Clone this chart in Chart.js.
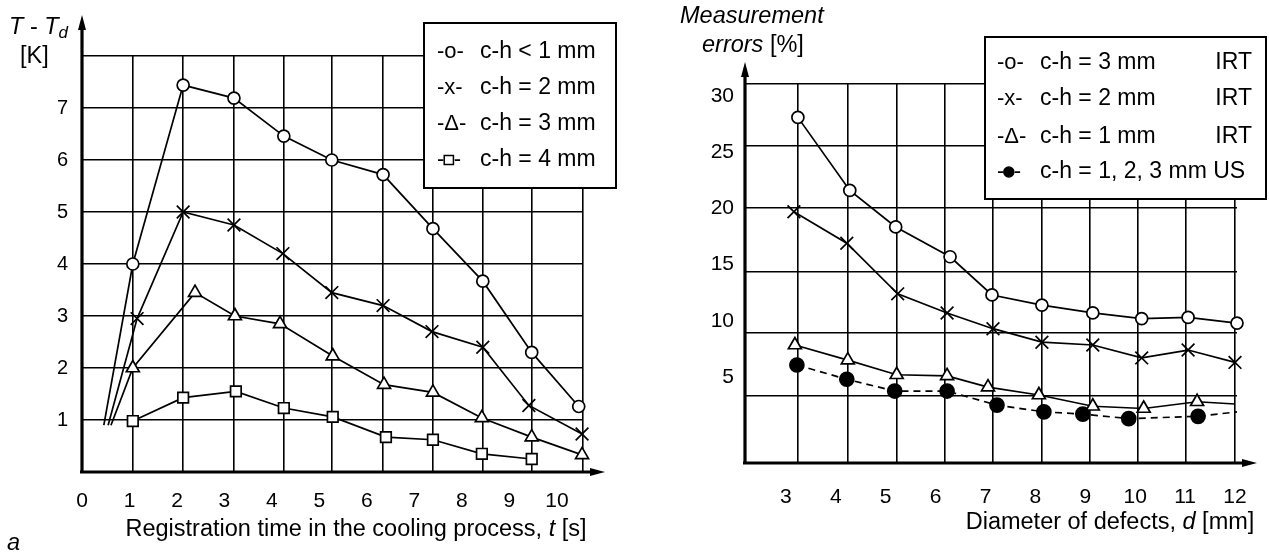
<!DOCTYPE html>
<html>
<head>
<meta charset="utf-8">
<script src="https://cdn.jsdelivr.net/npm/chart.js@4.4.1/dist/chart.umd.min.js"></script>
<style>
  html, body { margin: 0; padding: 0; background: #fff; }
  #wrap { position: relative; width: 1269px; height: 552px; overflow: hidden; background: #fff; }
  #c1 { position: absolute; left: 0; top: 0; }
  #c2 { position: absolute; left: 630px; top: 0; }
</style>
</head>
<body>
<div id="wrap">
  <canvas id="c1" width="630" height="552"></canvas>
  <canvas id="c2" width="639" height="552"></canvas>
</div>
<script>
//==================== chart a : T - Td vs registration time ====================
const tTicks = [0, 1, 2, 3, 4, 5, 6, 7, 8, 9, 10];
const tGrid = [1.07, 2.13, 3.2, 4.25, 5.26, 6.34, 7.39, 8.44, 9.47, 10.55];
const kTicks = [0, 1, 2, 3, 4, 5, 6, 7, 8];

const t_ch1 = [0.46, 1.07, 2.13, 3.2, 4.25, 5.26, 6.34, 7.39, 8.44, 9.47, 10.46];
const v_ch1 = [0.9, 4.0, 7.44, 7.19, 6.46, 6.0, 5.72, 4.68, 3.67, 2.3, 1.26];
const t_ch2 = [0.55, 1.16, 2.13, 3.2, 4.23, 5.26, 6.34, 7.37, 8.44, 9.41, 10.53];
const v_ch2 = [0.9, 2.95, 5.0, 4.75, 4.2, 3.45, 3.2, 2.7, 2.4, 1.28, 0.73];
const t_ch3 = [0.61, 1.07, 2.38, 3.22, 4.17, 5.28, 6.36, 7.39, 8.42, 9.47, 10.53];
const v_ch3 = [0.9, 2.0, 3.45, 3.0, 2.85, 2.23, 1.68, 1.53, 1.04, 0.67, 0.33];
const t_ch4 = [1.07, 2.13, 3.24, 4.25, 5.28, 6.4, 7.39, 8.42, 9.47];
const v_ch4 = [0.98, 1.43, 1.55, 1.23, 1.06, 0.67, 0.62, 0.35, 0.25];

const legA = ['c-h < 1 mm', 'c-h = 2 mm', 'c-h = 3 mm', 'c-h = 4 mm'];
const symA = ['o', 'x', '\u0394', null];

//==================== chart b : measurement errors vs defect diameter ====================
const dTicks = [3, 4, 5, 6, 7, 8, 9, 10, 11, 12];
const dGrid = [3.24, 4.24, 5.22, 6.19, 7.15, 8.13, 9.09, 10.05, 11.02, 12.0];
const eTicks = [5, 10, 15, 20, 25, 30];
const eGrid = [3.31, 8.91, 14.34, 20.04, 25.55, 31.07];

const d_irt3 = [3.24, 4.28, 5.2, 6.29, 7.13, 8.13, 9.15, 10.13, 11.06, 12.04];
const e_irt3 = [28.1, 21.6, 18.35, 15.7, 12.3, 11.4, 10.7, 10.2, 10.3, 9.8];
const d_irt2 = [3.16, 4.22, 5.24, 6.23, 7.15, 8.13, 9.15, 10.13, 11.06, 12.0];
const e_irt2 = [19.7, 16.9, 12.4, 10.7, 9.3, 8.1, 7.85, 6.7, 7.4, 6.3];
const d_irt1 = [3.18, 4.24, 5.22, 6.23, 7.05, 8.07, 9.15, 10.17, 11.24, 12.0];
const e_irt1 = [7.85, 6.5, 5.2, 5.1, 4.1, 3.4, 2.4, 2.2, 2.8, 2.6];
const d_us = [3.22, 4.22, 5.18, 6.23, 7.23, 8.17, 8.95, 9.87, 11.26, 12.04];
const e_us = [6.07, 4.8, 3.75, 3.75, 2.5, 1.9, 1.7, 1.3, 1.5, 1.9];

const legB = ['c-h = 3 mm', 'c-h = 2 mm', 'c-h = 1 mm', 'c-h = 1, 2, 3 mm US'];
const legBsuffix = ['IRT', 'IRT', 'IRT', ''];
const symB = ['o', 'x', '\u0394', null];

//================================
const FONT = 'Arial, "Liberation Sans", Helvetica, sans-serif';
const pts = (xs, ys) => xs.map((x, i) => ({ x: x, y: ys[i] }));

// draws a run of text pieces: [text, italic, size, dy]
function rich(ctx, segs, x, y, align) {
	let w = 0;
	segs.forEach(s => {
		ctx.font = (s[1] ? 'italic ' : '') + s[2] + 'px ' + FONT;
		w += ctx.measureText(s[0]).width;
	});
	let cx = align === 'center' ? x - w / 2 : x;
	segs.forEach(s => {
		ctx.font = (s[1] ? 'italic ' : '') + s[2] + 'px ' + FONT;
		ctx.fillText(s[0], cx, y + (s[3] || 0));
		cx += ctx.measureText(s[0]).width;
	});
}

function axesArrows(ctx, ca, up, right) {
	ctx.save();
	ctx.strokeStyle = '#000';
	ctx.fillStyle = '#000';
	ctx.lineWidth = 3.2;
	ctx.beginPath();
	ctx.moveTo(ca.left, ca.bottom + 1);
	ctx.lineTo(ca.left, ca.top - up + 10);
	ctx.moveTo(ca.left - 2, ca.bottom);
	ctx.lineTo(ca.right + right - 10, ca.bottom);
	ctx.stroke();
	ctx.beginPath();
	ctx.moveTo(ca.left, ca.top - up);
	ctx.lineTo(ca.left - 4, ca.top - up + 15);
	ctx.lineTo(ca.left + 4, ca.top - up + 15);
	ctx.closePath();
	ctx.fill();
	ctx.beginPath();
	ctx.moveTo(ca.right + right, ca.bottom);
	ctx.lineTo(ca.right + right - 15, ca.bottom - 4);
	ctx.lineTo(ca.right + right - 15, ca.bottom + 4);
	ctx.closePath();
	ctx.fill();
	ctx.restore();
}

function legendBox(chart, box, rows, symX, labX, sufX, labels, syms, suffix) {
	const ctx = chart.ctx;
	ctx.save();
	ctx.fillStyle = '#fff';
	ctx.fillRect(box[0], box[1], box[2], box[3]);
	ctx.strokeStyle = '#000';
	ctx.lineWidth = 2;
	ctx.strokeRect(box[0], box[1], box[2], box[3]);
	ctx.fillStyle = '#000';
	ctx.textBaseline = 'middle';
	labels.forEach((lab, i) => {
		const y = rows[i];
		ctx.textAlign = 'left';
		ctx.font = '22px ' + FONT;
		if (syms[i] !== null) {
			ctx.fillText('-' + syms[i] + '-', symX, y);
		} else {
			// marker drawn between two dashes, like "-o-"
			const ds = chart.data.datasets[i];
			const dw = ctx.measureText('-').width;
			const r = ds.pointStyle === 'rect' ? 6.5 : 5;
			ctx.fillText('-', symX, y);
			ctx.fillStyle = ds.pointBackgroundColor;
			ctx.strokeStyle = '#000';
			ctx.lineWidth = 1.5;
			Chart.helpers.drawPoint(ctx, { pointStyle: ds.pointStyle, radius: r, rotation: 0, borderWidth: 1.5 }, symX + dw + 4.5, y);
			ctx.fillStyle = '#000';
			ctx.fillText('-', symX + dw + 9.5, y);
		}
		ctx.font = '23px ' + FONT;
		ctx.fillText(lab, labX, y);
		if (suffix && suffix[i]) {
			ctx.textAlign = 'right';
			ctx.fillText(suffix[i], sufX, y);
		}
	});
	ctx.restore();
}

const gridLine = { color: '#000', lineWidth: 1.6, drawTicks: false };

function setTicks(arr) {
	return s => { s.ticks = arr.map(v => ({ value: v })); };
}

//==============chart a===============
const decorA = {
	id: 'decorA',
	beforeDatasetsDraw(chart) {
		axesArrows(chart.ctx, chart.chartArea, 41, 22);
	},
	afterDraw(chart) {
		const ctx = chart.ctx;
		legendBox(chart, [424, 23, 192, 165], [52, 88, 124, 160], 437, 480, 0, legA, symA, null);
		ctx.save();
		ctx.fillStyle = '#000';
		ctx.textBaseline = 'alphabetic';
		rich(ctx, [['T', true, 23.5], [' - ', false, 23.5], ['T', true, 23.5], ['d', true, 17, 4]], 9, 34, 'left');
		rich(ctx, [['[K]', false, 23.5]], 20, 63, 'left');
		rich(ctx, [['Registration time in the cooling process, ', false, 23.5], ['t', true, 23.5], [' [s]', false, 23.5]], 356, 536, 'center');
		rich(ctx, [['a', true, 23.5]], 7, 550, 'left');
		ctx.restore();
	}
};

const ptBase = {
	borderColor: '#000',
	borderWidth: 1.7,
	pointBorderColor: '#000',
	pointBackgroundColor: '#fff',
	pointBorderWidth: 1.7,
	showLine: true,
	tension: 0,
	clip: false
};

new Chart(document.getElementById('c1').getContext('2d'), {
	type: 'scatter',
	data: {
		datasets: [
			Object.assign({}, ptBase, { label: legA[0], data: pts(t_ch1, v_ch1), pointStyle: 'circle', pointRadius: c => c.dataIndex === 0 ? 0 : 6 }),
			Object.assign({}, ptBase, { label: legA[1], data: pts(t_ch2, v_ch2), pointStyle: 'crossRot', pointRadius: c => c.dataIndex === 0 ? 0 : 9 }),
			Object.assign({}, ptBase, { label: legA[2], data: pts(t_ch3, v_ch3), pointStyle: 'triangle', pointRadius: c => c.dataIndex === 0 ? 0 : 7.5 }),
			Object.assign({}, ptBase, { label: legA[3], data: pts(t_ch4, v_ch4), pointStyle: 'rect', pointRadius: 7.5 })
		]
	},
	options: {
		responsive: false,
		animation: false,
		events: [],
		layout: { padding: { left: 0, top: 56, right: 47, bottom: 0 } },
		plugins: { legend: { display: false }, tooltip: { enabled: false } },
		scales: {
			x: {
				type: 'linear', position: 'bottom', min: 0, max: 10.55,
				afterBuildTicks: setTicks(tTicks),
				grid: { display: false, drawTicks: false },
				border: { display: false },
				ticks: { font: { family: FONT, size: 21 }, color: '#000', padding: 17, maxRotation: 0, autoSkip: false },
				afterFit: s => { s.height = 80; }
			},
			xg: {
				type: 'linear', position: 'bottom', min: 0, max: 10.55,
				afterBuildTicks: setTicks(tGrid),
				grid: gridLine,
				border: { display: false },
				ticks: { display: false },
				afterFit: s => { s.height = 0; }
			},
			y: {
				type: 'linear', min: 0, max: 8,
				afterBuildTicks: setTicks(kTicks),
				grid: { color: c => (c.tick && c.tick.value === 0) ? 'rgba(0,0,0,0)' : '#000', lineWidth: 1.6, drawTicks: false },
				border: { display: false },
				ticks: { font: { family: FONT, size: 20 }, color: '#000', padding: 14, callback: v => (v === 0 || v === 8) ? '' : v },
				afterFit: s => { s.width = 82; }
			}
		}
	},
	plugins: [decorA]
});

//==============chart b===============
const decorB = {
	id: 'decorB',
	beforeDatasetsDraw(chart) {
		axesArrows(chart.ctx, chart.chartArea, 22, 20);
	},
	afterDraw(chart) {
		const ctx = chart.ctx;
		legendBox(chart, [355, 37, 281, 162], [63, 99, 137, 172], 367, 410, 622, legB, symB, legBsuffix);
		ctx.save();
		ctx.fillStyle = '#000';
		ctx.textBaseline = 'alphabetic';
		rich(ctx, [['Measurement', true, 23.5]], 50, 23, 'left');
		rich(ctx, [['errors', true, 23.5], [' [%]', false, 23.5]], 72, 52, 'left');
		rich(ctx, [['Diameter of defects, ', false, 23.5], ['d', true, 23.5], [' [mm]', false, 23.5]], 480, 529, 'center');
		ctx.restore();
	}
};

new Chart(document.getElementById('c2').getContext('2d'), {
	type: 'scatter',
	data: {
		datasets: [
			Object.assign({}, ptBase, { label: legB[0], data: pts(d_irt3, e_irt3), pointStyle: 'circle', pointRadius: 6 }),
			Object.assign({}, ptBase, { label: legB[1], data: pts(d_irt2, e_irt2), pointStyle: 'crossRot', pointRadius: 9 }),
			Object.assign({}, ptBase, { label: legB[2], data: pts(d_irt1, e_irt1), pointStyle: 'triangle', pointRadius: c => c.dataIndex === d_irt1.length - 1 ? 0 : 7.5 }),
			Object.assign({}, ptBase, { label: legB[3], data: pts(d_us, e_us), pointStyle: 'circle', pointBackgroundColor: '#000', borderDash: [7, 5], pointRadius: c => c.dataIndex === d_us.length - 1 ? 0 : 7 })
		]
	},
	options: {
		responsive: false,
		animation: false,
		events: [],
		layout: { padding: { left: 0, top: 84, right: 32, bottom: 0 } },
		plugins: { legend: { display: false }, tooltip: { enabled: false } },
		scales: {
			x: {
				type: 'linear', position: 'bottom', min: 2.18, max: 12.04,
				afterBuildTicks: setTicks(dTicks),
				grid: { display: false, drawTicks: false },
				border: { display: false },
				ticks: { font: { family: FONT, size: 21 }, color: '#000', padding: 22, maxRotation: 0, autoSkip: false },
				afterFit: s => { s.height = 89; }
			},
			xg: {
				type: 'linear', position: 'bottom', min: 2.18, max: 12.04,
				afterBuildTicks: setTicks(dGrid),
				grid: gridLine,
				border: { display: false },
				ticks: { display: false },
				afterFit: s => { s.height = 0; }
			},
			y: {
				type: 'linear', position: 'left', min: -2.65, max: 31.07,
				afterBuildTicks: setTicks(eTicks),
				grid: { display: false, drawTicks: false },
				border: { display: false },
				ticks: { font: { family: FONT, size: 21 }, color: '#000', padding: 11 },
				afterFit: s => { s.width = 115; }
			},
			yg: {
				type: 'linear', position: 'left', min: -2.65, max: 31.07,
				afterBuildTicks: setTicks(eGrid),
				grid: gridLine,
				border: { display: false },
				ticks: { display: false },
				afterFit: s => { s.width = 0; }
			}
		}
	},
	plugins: [decorB]
});
</script>
</body>
</html>
